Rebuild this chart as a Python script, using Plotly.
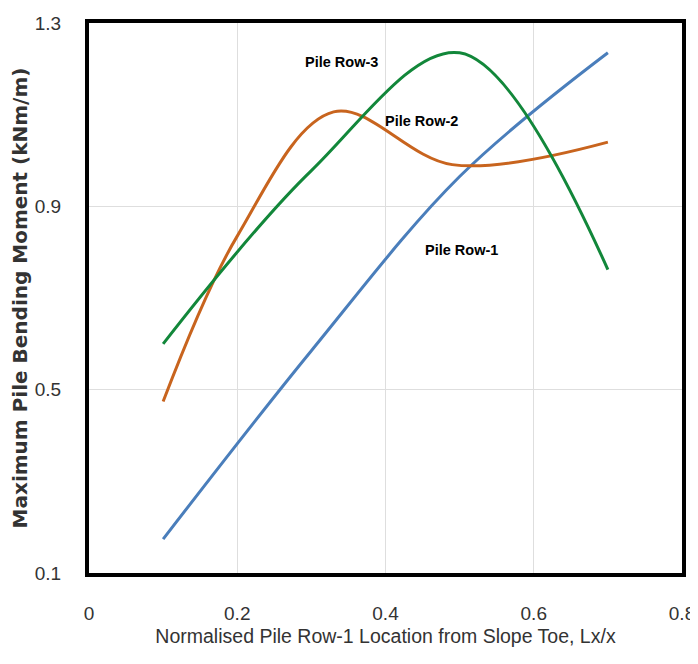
import plotly.graph_objects as go

# Values
row1_x = [0.1, 0.3, 0.5, 0.7]
row1_y = [0.174, 0.585, 0.965, 1.235]
row2_x = [0.1, 0.2, 0.33, 0.49, 0.7]
row2_y = [0.474, 0.835, 1.106, 0.991, 1.04]
row3_x = [0.1, 0.3, 0.5, 0.7]
row3_y = [0.60, 0.978, 1.235, 0.762]

series = [
    ("Pile Row-1", row1_x, row1_y, "#4a7ebb"),
    ("Pile Row-2", row2_x, row2_y, "#c8641e"),
    ("Pile Row-3", row3_x, row3_y, "#12873a"),
]

labels = [
    ("Pile Row-3", 0.34, 1.216),
    ("Pile Row-2", 0.449, 1.087),
    ("Pile Row-1", 0.503, 0.805),
]

x_ticks = [0, 0.2, 0.4, 0.6, 0.8]
x_ticktext = ["0", "0.2", "0.4", "0.6", "0.8"]
y_ticks = [0.1, 0.5, 0.9, 1.3]
y_ticktext = ["0.1", "0.5", "0.9", "1.3"]

fig = go.Figure()
for name, xs, ys, color in series:
    fig.add_trace(go.Scatter(
        x=xs, y=ys, mode="lines", name=name,
        line=dict(color=color, width=3, shape="spline", smoothing=1.0),
        showlegend=False,
    ))

for text, x, y in labels:
    fig.add_annotation(
        x=x, y=y, text="<b>" + text + "</b>", showarrow=False,
        font=dict(family="Liberation Sans, Arial, sans-serif", size=14.5, color="black"),
    )

fig.update_layout(
    width=690, height=648,
    margin=dict(l=81, r=16, t=15, b=83),
    paper_bgcolor="white", plot_bgcolor="white",
    font=dict(family="Liberation Sans, Arial, sans-serif", color="#333"),
    xaxis=dict(
        range=[0, 0.8], tickvals=x_ticks, ticktext=x_ticktext,
        showgrid=True, gridcolor="#dedede", gridwidth=1,
        showline=True, linecolor="black", linewidth=4, mirror=True,
        zeroline=False, ticks="", ticklabelstandoff=20, automargin=False,
        tickfont=dict(size=19, color="#333"),
        title=dict(text="Normalised Pile Row-1 Location from Slope Toe, Lx/x",
                   font=dict(size=19.5, color="#333"), standoff=8),
    ),
    yaxis=dict(
        range=[0.1, 1.3], tickvals=y_ticks, ticktext=y_ticktext,
        showgrid=True, gridcolor="#dedede", gridwidth=1,
        showline=True, linecolor="black", linewidth=4, mirror=True,
        zeroline=False, ticks="", ticklabelstandoff=20, automargin=False,
        tickfont=dict(size=19, color="#333"),
        title=dict(text="<b>Maximum Pile Bending Moment (kNm/m)</b>",
                   font=dict(family="DejaVu Sans, sans-serif", size=20, color="#333"), standoff=4),
    ),
)

fig.write_html("out.html")
